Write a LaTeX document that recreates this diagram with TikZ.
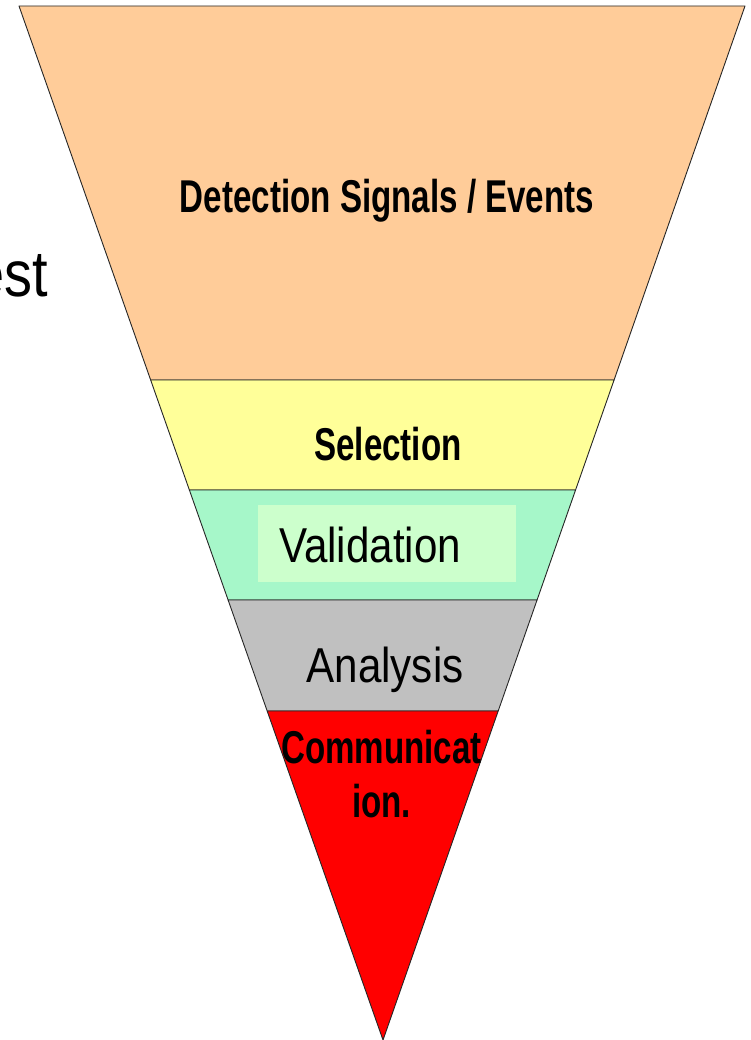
\documentclass[tikz,border=0pt]{standalone}
\usepackage{fontspec}
\setmainfont{Liberation Sans}
\newfontfamily\narrowbold[FakeStretch=0.72]{Liberation Sans Bold}
\newfontfamily\narrowplain[FakeStretch=0.86]{Liberation Sans}
\usetikzlibrary{calc}

\begin{document}
\begin{tikzpicture}[
    x=1pt, y=-1pt,
    band/.style={draw=black!85, line width=0.9pt, line join=round},
    stagebold/.style={anchor=base, inner sep=0pt, font=\narrowbold\fontsize{46}{54}\selectfont, align=center},
    stageplain/.style={anchor=base, inner sep=0pt, font=\narrowplain\fontsize{49}{56}\selectfont}
]
\definecolor{detectpeach}{RGB}{255,204,153}
\definecolor{selectyellow}{RGB}{255,255,153}
\definecolor{validgreen}{RGB}{166,247,201}
\definecolor{validpale}{RGB}{204,255,204}
\definecolor{analysisgrey}{RGB}{192,192,192}
\definecolor{commred}{RGB}{255,0,0}

\useasboundingbox (0,0) rectangle (751,1040);

% funnel outline
\coordinate (tl) at (19,6);
\coordinate (tr) at (745,6);
\coordinate (apex) at (383,1040);
\coordinate (l1) at ($(tl)!0.3617!(apex)$);
\coordinate (r1) at ($(tr)!0.3617!(apex)$);
\coordinate (l2) at ($(tl)!0.4681!(apex)$);
\coordinate (r2) at ($(tr)!0.4681!(apex)$);
\coordinate (l3) at ($(tl)!0.5745!(apex)$);
\coordinate (r3) at ($(tr)!0.5745!(apex)$);
\coordinate (l4) at ($(tl)!0.6818!(apex)$);
\coordinate (r4) at ($(tr)!0.6818!(apex)$);

% bands, top to bottom
\draw[band, fill=detectpeach] (tl) -- (tr) -- (r1) -- (l1) -- cycle;
\draw[band, fill=selectyellow] (l1) -- (r1) -- (r2) -- (l2) -- cycle;
\draw[band, fill=validgreen] (l2) -- (r2) -- (r3) -- (l3) -- cycle;
\draw[band, fill=analysisgrey] (l3) -- (r3) -- (r4) -- (l4) -- cycle;
\draw[band, fill=commred] (l4) -- (r4) -- (apex) -- cycle;

\fill[validpale] (258,505) rectangle (516,582);

\node[stagebold] (detection) at (387,213) {Detection Signals / Events};
\node[stagebold] (selection) at (388,460) {Selection};
\node[stageplain] (validation) at (370,562) {Validation};
\node[stageplain] (analysis) at (385,682) {Analysis};
\node[stagebold] (communication) at (381.5,817) {Communicat\\ion.};

\node[anchor=base east, inner sep=0pt, font=\narrowplain\fontsize{65}{70}\selectfont] (est) at (48,297) {est};
\end{tikzpicture}
\end{document}
